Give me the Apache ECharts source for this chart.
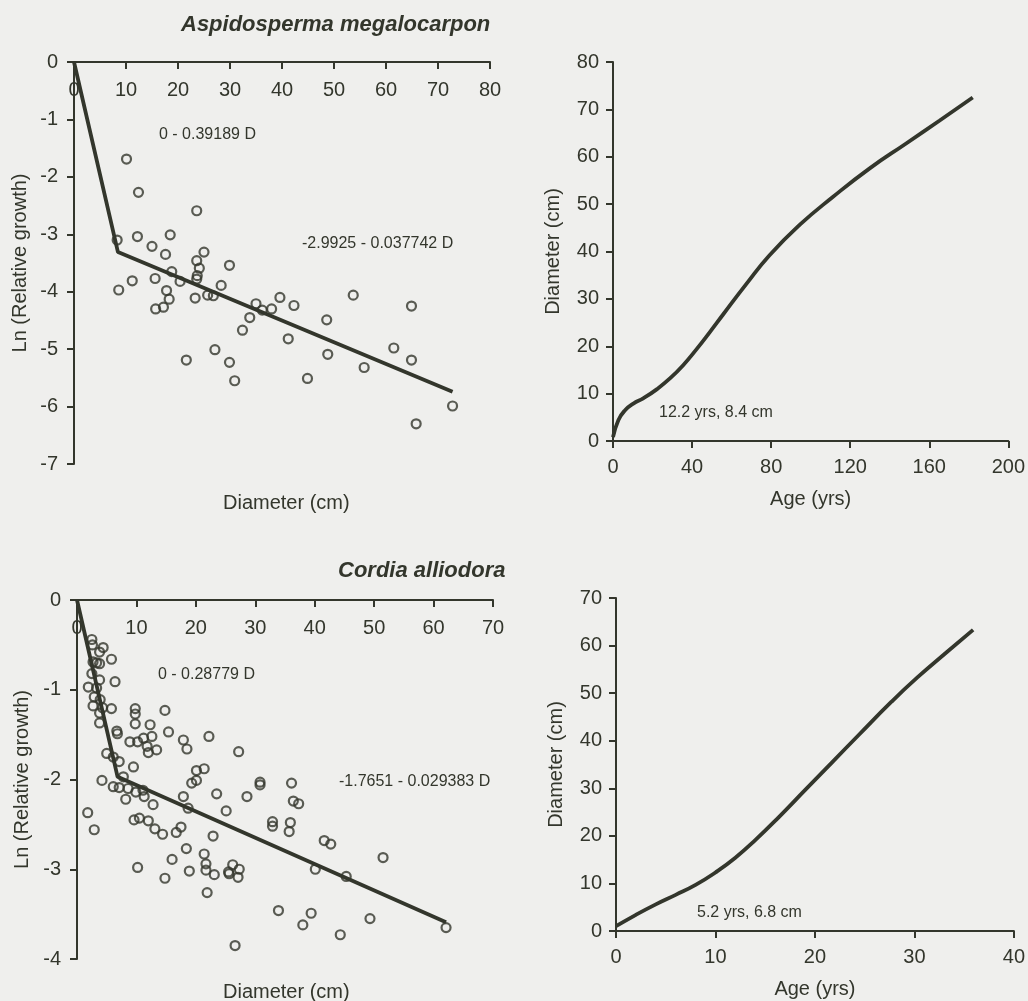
<!DOCTYPE html>
<html>
<head>
<meta charset="utf-8">
<script src="https://cdn.jsdelivr.net/npm/echarts@6/dist/echarts.min.js"></script>
<style>
  html, body { margin: 0; padding: 0; background: #efefed; }
  #chart { width: 1028px; height: 1001px; }
</style>
</head>
<body>
<div id="chart"></div>
<script>
var chart = echarts.init(document.getElementById('chart'));
var ink = '#33362c';
var font = 'Liberation Sans, Arial, sans-serif';

// Aspidosperma megalocarpon: diameter (cm), ln(relative growth)
const aspD = [10.1, 12.4, 23.6, 8.3, 12.2, 18.5, 15.0, 17.6, 25.0, 23.6, 24.1, 18.8, 23.7, 23.6, 29.9,
  8.6, 11.2, 15.6, 20.4, 17.8, 18.3, 17.2, 15.7, 23.3, 28.3, 25.7, 26.8, 35.0, 33.8, 32.4, 36.2, 38.0,
  27.1, 21.6, 29.9, 30.9, 39.6, 42.3, 53.7, 64.9, 48.6, 41.2, 48.8, 44.9, 55.8, 61.5, 64.9, 72.8, 65.8];
const aspL = [-1.69, -2.27, -2.59, -3.10, -3.04, -3.01, -3.21, -3.35, -3.31, -3.46, -3.59, -3.65, -3.72, -3.78, -3.54,
  -3.97, -3.81, -3.77, -3.82, -3.98, -4.13, -4.27, -4.30, -4.11, -3.89, -4.06, -4.07, -4.21, -4.45, -4.67, -4.32, -4.30,
  -5.01, -5.19, -5.23, -5.55, -4.10, -4.24, -4.06, -4.25, -4.49, -4.82, -5.09, -5.51, -5.32, -4.98, -5.19, -5.99, -6.30];
// fitted two-segment line: 0 - 0.39189 D, then -2.9925 - 0.037742 D
const aspFitD = [0, 8.45, 72.8];
const aspFitL = [0, -3.31, -5.74];
// growth curve: age (yrs), diameter (cm)
const aspAge = [0, 2.7, 6.1, 10.3, 15.3, 22.1, 28.8, 35.5, 42.3, 49, 55.7, 67.4, 79.2, 94.4, 111.2, 129.7, 148.3, 165.1, 182];
const aspDia = [0.8, 4.4, 6.5, 7.9, 9.0, 10.9, 13.2, 16.0, 19.4, 23.0, 26.7, 33.1, 39.2, 45.6, 51.5, 57.5, 62.8, 67.6, 72.5];

// Cordia alliodora
const corD = [2.5, 2.6, 4.4, 3.8, 5.8, 2.7, 3.3, 3.8, 2.5, 3.8, 6.4, 1.9, 3.3, 2.9, 3.9, 2.7, 4.3, 5.8, 3.8, 3.8,
  9.8, 9.8, 9.8, 14.8, 12.3, 6.7, 6.8, 15.4, 8.9, 10.2, 11.2, 12.6, 11.8, 12.0, 13.4, 17.9, 18.5, 22.2,
  5.0, 6.1, 7.1, 9.5, 20.1, 21.4, 19.3, 20.1, 4.2, 7.8, 6.1, 7.1, 8.6, 9.9, 11.1, 11.3, 8.2, 12.8, 17.9, 18.7,
  23.5, 1.8, 2.9, 9.6, 10.5, 12.0, 13.1, 14.4, 16.7, 17.5, 22.9, 18.4, 21.4, 21.7, 21.7, 23.1, 16.0, 18.9,
  10.2, 14.8, 21.9, 28.6, 30.8, 30.8, 36.1, 36.4, 37.3, 25.1, 32.9, 32.9, 35.9, 35.7, 41.6, 42.7, 51.5,
  26.2, 25.5, 25.6, 27.3, 27.1, 40.1, 45.3, 33.9, 39.4, 38.0, 49.3, 44.3, 26.6, 62.1, 27.2];
const corL = [-0.44, -0.50, -0.53, -0.58, -0.66, -0.69, -0.70, -0.71, -0.82, -0.89, -0.91, -0.97, -0.98, -1.08, -1.11, -1.18, -1.20, -1.21, -1.26, -1.37,
  -1.21, -1.27, -1.38, -1.23, -1.39, -1.46, -1.49, -1.47, -1.58, -1.58, -1.54, -1.52, -1.63, -1.70, -1.67, -1.56, -1.66, -1.52,
  -1.71, -1.75, -1.80, -1.86, -1.90, -1.88, -2.04, -2.01, -2.01, -1.97, -2.08, -2.09, -2.10, -2.14, -2.12, -2.19, -2.22, -2.28, -2.19, -2.32,
  -2.16, -2.37, -2.56, -2.45, -2.43, -2.46, -2.55, -2.61, -2.59, -2.53, -2.63, -2.77, -2.83, -2.94, -3.01, -3.06, -2.89, -3.02,
  -2.98, -3.10, -3.26, -2.19, -2.03, -2.06, -2.04, -2.24, -2.27, -2.35, -2.47, -2.52, -2.48, -2.58, -2.68, -2.72, -2.87,
  -2.95, -3.03, -3.05, -3.00, -3.09, -3.00, -3.08, -3.46, -3.49, -3.62, -3.55, -3.73, -3.85, -3.65, -1.69];
// fitted: 0 - 0.28779 D, then -1.7651 - 0.029383 D
const corFitD = [0, 6.83, 62.1];
const corFitL = [0, -1.97, -3.59];
const corAge = [0, 2, 4, 6, 8, 10, 12, 14, 16.4, 19.0, 21.7, 24.4, 27.7, 30.3, 33.3, 35.9];
const corDia = [1.0, 3.4, 5.6, 7.6, 9.7, 12.3, 15.4, 19.1, 24.0, 29.6, 35.4, 41.2, 48.2, 53.3, 58.7, 63.3];

function pairs(xs, ys) {
  return xs.map(function (x, i) { return [x, ys[i]]; });
}

var axisLine = { show: true, lineStyle: { color: ink, width: 2 } };
var tick = { length: 7, lineStyle: { color: ink, width: 2 } };
var label = { color: ink, fontSize: 20, fontFamily: font };
var nameStyle = { color: ink, fontSize: 20, fontFamily: font };

function scatterAxisX(idx, max) {
  return {
    gridIndex: idx, type: 'value', position: 'top', min: 0, max: max, interval: 10,
    axisLine: axisLine,
    axisTick: Object.assign({ inside: true }, tick),
    axisLabel: Object.assign({ inside: true, margin: 18 }, label),
    splitLine: { show: false }
  };
}
function scatterAxisY(idx, min, gap) {
  return {
    gridIndex: idx, type: 'value', min: min, max: 0, interval: 1,
    name: 'Ln (Relative growth)', nameLocation: 'middle', nameGap: gap, nameTextStyle: nameStyle,
    axisLine: axisLine,
    axisTick: tick,
    axisLabel: Object.assign({ margin: 16 }, label),
    splitLine: { show: false }
  };
}
function curveAxisX(idx, max, interval) {
  return {
    gridIndex: idx, type: 'value', min: 0, max: max, interval: interval,
    name: 'Age (yrs)', nameLocation: 'middle', nameGap: 48, nameTextStyle: nameStyle,
    axisLine: axisLine,
    axisTick: tick,
    axisLabel: Object.assign({ margin: 16 }, label),
    splitLine: { show: false }
  };
}
function curveAxisY(idx, max) {
  return {
    gridIndex: idx, type: 'value', min: 0, max: max, interval: 10,
    name: 'Diameter (cm)', nameLocation: 'middle', nameGap: 50, nameTextStyle: nameStyle,
    axisLine: axisLine,
    axisTick: tick,
    axisLabel: Object.assign({ margin: 14 }, label),
    splitLine: { show: false }
  };
}

function scatter(idx, data) {
  return {
    type: 'scatter', xAxisIndex: idx, yAxisIndex: idx, data: data,
    symbol: 'circle', symbolSize: 9,
    itemStyle: { color: 'rgba(0,0,0,0)', borderColor: ink, borderWidth: 2.2 },
    silent: true
  };
}
function line(idx, data, smooth) {
  return {
    type: 'line', xAxisIndex: idx, yAxisIndex: idx, data: data,
    showSymbol: false, smooth: smooth,
    lineStyle: { color: ink, width: 3.8 },
    silent: true, z: 3
  };
}

function text(str, left, top, size, extra) {
  return {
    text: str, left: left, top: top,
    textStyle: Object.assign({ color: ink, fontSize: size, fontWeight: 'normal', fontFamily: font }, extra || {})
  };
}

option = {
  backgroundColor: '#efefed',
  animation: false,
  title: [
    text('Aspidosperma megalocarpon', 176, 9, 22, { fontWeight: 'bold', fontStyle: 'italic' }),
    text('Cordia alliodora', 333, 555, 22, { fontWeight: 'bold', fontStyle: 'italic' }),
    text('Diameter (cm)', 218, 488, 20),
    text('Diameter (cm)', 218, 977, 20),
    text('0 - 0.39189 D', 154, 122, 16),
    text('-2.9925 - 0.037742 D', 297, 231, 16),
    text('0 - 0.28779 D', 153, 662, 16),
    text('-1.7651 - 0.029383 D', 334, 769, 16),
    text('12.2 yrs, 8.4 cm', 654, 400, 16),
    text('5.2 yrs, 6.8 cm', 692, 900, 16)
  ],
  grid: [
    { left: 74, right: 538, top: 62, bottom: 537 },
    { left: 613, right: 19, top: 62, bottom: 560 },
    { left: 77, right: 535, top: 600, bottom: 42 },
    { left: 616, right: 11, top: 598, bottom: 70 }
  ],
  xAxis: [
    scatterAxisX(0, 80),
    curveAxisX(1, 200, 40),
    scatterAxisX(2, 70),
    curveAxisX(3, 40, 10)
  ],
  yAxis: [
    scatterAxisY(0, -7, 44),
    curveAxisY(1, 80),
    scatterAxisY(2, -4, 45),
    curveAxisY(3, 70)
  ],
  series: [
    scatter(0, pairs(aspD, aspL)),
    line(0, pairs(aspFitD, aspFitL), false),
    line(1, pairs(aspAge, aspDia), 0.5),
    scatter(2, pairs(corD, corL)),
    line(2, pairs(corFitD, corFitL), false),
    line(3, pairs(corAge, corDia), 0.5)
  ]
};

option && chart.setOption(option);
</script>
</body>
</html>
